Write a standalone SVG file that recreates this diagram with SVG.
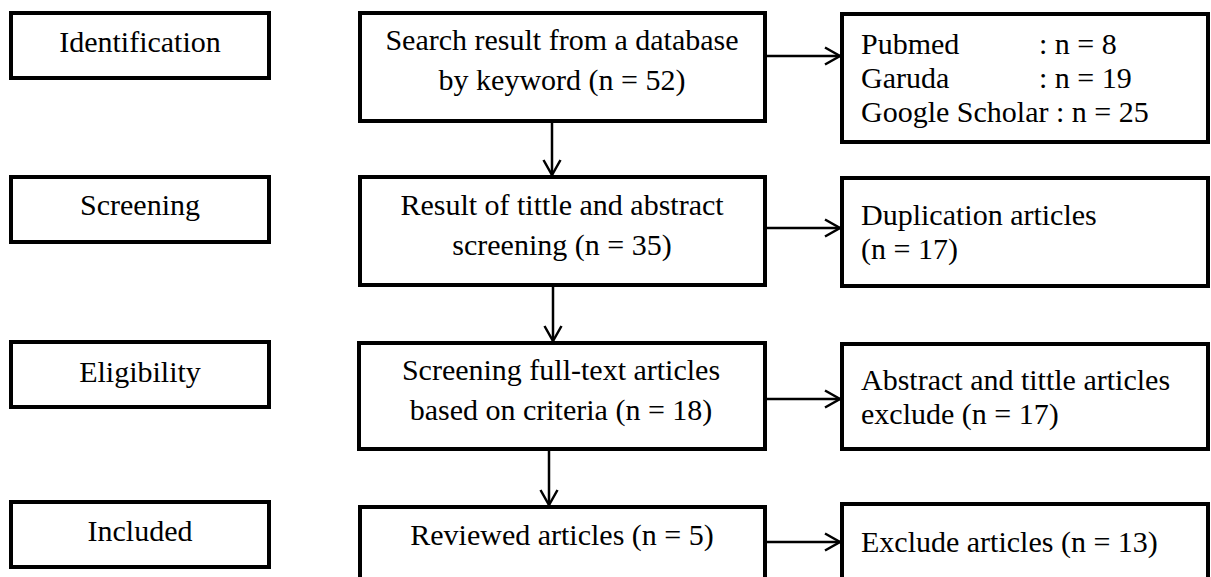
<svg xmlns="http://www.w3.org/2000/svg" width="1211" height="577" viewBox="0 0 1211 577">
<style>
.box{fill:#fff;stroke:#000;stroke-width:4}
.t{font-family:'Liberation Serif',serif;font-size:30px;fill:#000}
.c{text-anchor:middle}
.con{fill:none;stroke:#000;stroke-width:2.5}
</style>
<defs>
<marker id="ah" viewBox="0 0 20 20" refX="17" refY="10" markerWidth="20" markerHeight="20" markerUnits="userSpaceOnUse" orient="auto">
<path d="M2,1.5 L17,10 L2,18.5" fill="none" stroke="#000" stroke-width="2.5"/>
</marker>
</defs>
<rect width="1211" height="577" fill="#fff"/>
<g id="stage-identification"><rect class="box" x="11" y="13" width="258" height="65"/><text class="t c" x="140" y="52">Identification</text></g>
<g id="stage-screening"><rect class="box" x="11" y="177" width="258" height="65"/><text class="t c" x="140" y="215">Screening</text></g>
<g id="stage-eligibility"><rect class="box" x="11" y="342" width="258" height="65"/><text class="t c" x="140" y="382">Eligibility</text></g>
<g id="stage-included"><rect class="box" x="11" y="502" width="258" height="65"/><text class="t c" x="140" y="541">Included</text></g>

<g id="search"><rect class="box" x="360" y="13" width="405" height="108"/><text class="t c" x="562" y="50">Search result from a database</text><text class="t c" x="562" y="90">by keyword (n = 52)</text></g>
<g id="result"><rect class="box" x="360" y="177" width="405" height="108"/><text class="t c" x="562" y="215">Result of tittle and abstract</text><text class="t c" x="562" y="255">screening (n = 35)</text></g>
<g id="fulltext"><rect class="box" x="359" y="343" width="406" height="106"/><text class="t c" x="561" y="380">Screening full-text articles</text><text class="t c" x="561" y="420">based on criteria (n = 18)</text></g>
<g id="reviewed"><rect class="box" x="360" y="507" width="405" height="100"/><text class="t c" x="562" y="545">Reviewed articles (n = 5)</text></g>

<g id="sources"><rect class="box" x="842" y="14" width="366" height="128"/><text class="t" x="861" y="54">Pubmed</text><text class="t" x="1039" y="54">: n = 8</text><text class="t" x="861" y="88">Garuda</text><text class="t" x="1039" y="88">: n = 19</text><text class="t" x="861" y="122">Google Scholar : n = 25</text></g>
<g id="duplication"><rect class="box" x="842" y="178" width="366" height="108"/><text class="t" x="861" y="225">Duplication articles</text><text class="t" x="861" y="259">(n = 17)</text></g>
<g id="abstract-exclude"><rect class="box" x="842" y="344" width="366" height="105"/><text class="t" x="861" y="390">Abstract and tittle articles</text><text class="t" x="861" y="424">exclude (n = 17)</text></g>
<g id="exclude"><rect class="box" x="842" y="504" width="366" height="100"/><text class="t" x="861" y="552">Exclude articles (n = 13)</text></g>

<g id="connectors">
<line class="con" x1="552" y1="123" x2="552" y2="175" marker-end="url(#ah)"/>
<line class="con" x1="553" y1="287" x2="553" y2="341" marker-end="url(#ah)"/>
<line class="con" x1="549" y1="451" x2="549" y2="505" marker-end="url(#ah)"/>
<line class="con" x1="767" y1="56" x2="840" y2="56" marker-end="url(#ah)"/>
<line class="con" x1="767" y1="228" x2="840" y2="228" marker-end="url(#ah)"/>
<line class="con" x1="767" y1="399" x2="840" y2="399" marker-end="url(#ah)"/>
<line class="con" x1="767" y1="542" x2="840" y2="542" marker-end="url(#ah)"/>
</g>
</svg>
